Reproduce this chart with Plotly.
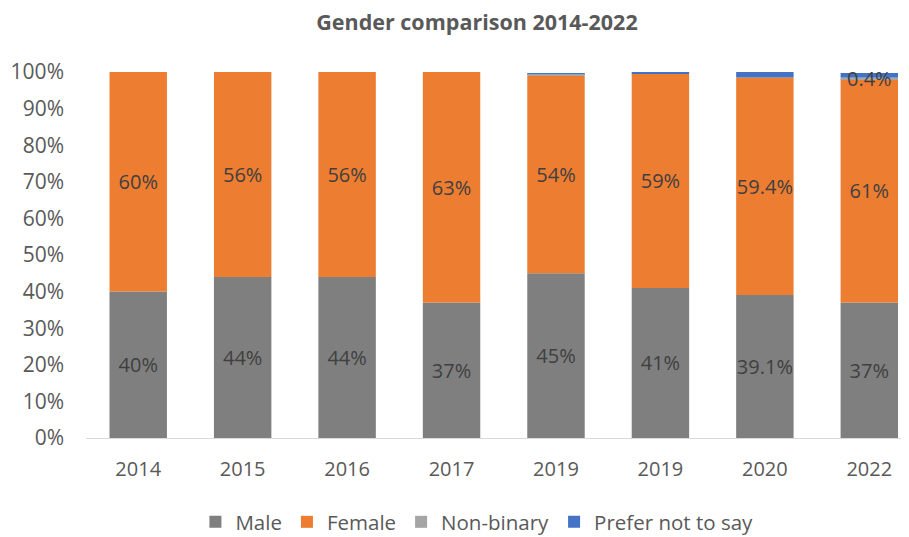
import plotly.graph_objects as go

years = ["2014", "2015", "2016", "2017", "2019", "2019", "2020", "2022"]
male = [40, 44, 44, 37, 45, 41, 39.1, 37]
female = [60, 56, 56, 63, 54, 58.6, 59.4, 61]
non_binary = [0, 0, 0, 0, 0.2, 0, 0, 0.4]
prefer_not = [0, 0, 0, 0, 0.5, 0.4, 1.5, 1.3]

male_labels = ["40%", "44%", "44%", "37%", "45%", "41%", "39.1%", "37%"]
female_labels = ["60%", "56%", "56%", "63%", "54%", "59%", "59.4%", "61%"]
nb_labels = ["", "", "", "", "", "", "", "0.4%"]
pn_labels = ["", "", "", "", "", "", "", ""]

positions = list(range(len(years)))

# cumulative bases so the stacked segments are placed by the library
base_male = [0] * len(years)
base_female = [m for m in male]
base_nb = [m + f for m, f in zip(male, female)]
base_pn = [m + f + n for m, f, n in zip(male, female, non_binary)]

series = [
    # (name, values, base, labels, colour, legend rank)
    ("Male", male, base_male, male_labels, "#7f7f7f", 1),
    ("Female", female, base_female, female_labels, "#ed7d31", 2),
    ("Prefer not to say", prefer_not, base_pn, pn_labels, "#4472c4", 4),
    ("Non-binary", non_binary, base_nb, nb_labels, "#a5a5a5", 3),
]

FONT = "'Open Sans', sans-serif"

fig = go.Figure()
for name, vals, base, labels, color, rank in series:
    fig.add_trace(go.Bar(
        x=positions,
        y=[v / 100 for v in vals],
        base=[b / 100 for b in base],
        name=name,
        legendrank=rank,
        marker=dict(color=color, line=dict(width=0)),
        text=labels,
        textposition="inside",
        insidetextanchor="middle",
        textangle=0,
        textfont=dict(size=20, color="#404040", family=FONT),
        cliponaxis=False,
        hoverinfo="skip",
    ))

# page has an 8px body margin: figure drawn at offset (8, 8)
fig.update_layout(
    barmode="overlay",
    bargap=0.45,
    width=901,
    height=529,
    paper_bgcolor="white",
    plot_bgcolor="white",
    margin=dict(l=78, r=0, t=64, b=99, autoexpand=False),
    uniformtext=dict(minsize=20, mode="show"),
    title=dict(
        text="<b>Gender comparison 2014-2022</b>",
        x=0.5205, xanchor="center",
        y=0.9735, yanchor="middle",
        font=dict(size=21.5, color="#595959", family=FONT),
    ),
    font=dict(family=FONT, color="#595959", size=20),
    legend=dict(
        orientation="h",
        x=0.475, xanchor="center",
        y=-0.2295, yanchor="middle",
        font=dict(size=20.5, color="#595959"),
        traceorder="normal",
        itemsizing="constant",
        itemwidth=30,
    ),
    xaxis=dict(
        tickmode="array",
        tickvals=positions,
        ticktext=years,
        range=[-0.5, 7.38],
        showline=True,
        linecolor="#d9d9d9",
        linewidth=1,
        ticks="",
        showgrid=False,
        tickfont=dict(size=20, color="#595959"),
        ticklabelstandoff=13,
        automargin=False,
    ),
    yaxis=dict(
        range=[0, 1],
        tickformat=".0%",
        dtick=0.1,
        showgrid=False,
        zeroline=False,
        showline=False,
        ticks="",
        tickfont=dict(size=21, color="#595959"),
        ticklabelstandoff=21,
        automargin=False,
    ),
)

fig.write_html("out.html")
